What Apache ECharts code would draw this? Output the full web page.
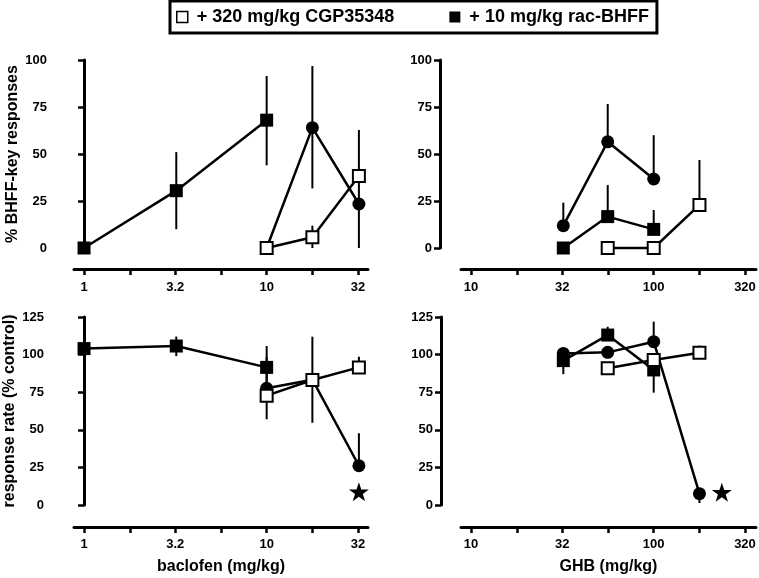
<!DOCTYPE html>
<html>
<head>
<meta charset="utf-8">
<script src="https://cdn.jsdelivr.net/npm/echarts@6/dist/echarts.min.js"></script>
<style>
html,body{margin:0;padding:0;background:#fff;}
#chart{width:759px;height:578px;}
</style>
</head>
<body>
<div id="chart"></div>
<script>
// ---------- data ----------
const legendCGP = '+ 320 mg/kg CGP35348';
const legendBHFF = '+ 10 mg/kg rac-BHFF';

// Baclofen panels
const bacAloneDose = [10, 17.8, 32];
const bacAloneBHFF = [0, 64, 23.4];
const bacAloneRate = [77.6, 83.3, 26.1];
const bacBHFFDose = [1, 3.2, 10];
const bacBHFFBHFF = [0, 30.5, 68];
const bacBHFFRate = [104, 105.7, 91.5];
const bacCGPDose = [10, 17.8, 32];
const bacCGPBHFF = [0, 5.7, 38.3];
const bacCGPRate = [72.7, 83.1, 91.5];

// GHB panels
const ghbAloneDose = [32, 56, 100, 178];
const ghbAloneBHFF = [11.9, 56.5, 36.7, null];
const ghbAloneRate = [100.8, 101.5, 108.6, 7.5];
const ghbBHFFDose = [32, 56, 100];
const ghbBHFFBHFF = [0, 16.7, 9.9];
const ghbBHFFRate = [96, 113, 89.8];
const ghbCGPDose = [56, 100, 178];
const ghbCGPBHFF = [0, 0, 22.9];
const ghbCGPRate = [90.9, 96.4, 101.3];

// error bars: [dose, low, high]
const errBacBHFF = [[3.2, 10, 51], [10, 44, 91.5], [17.8, 31.7, 96.8], [32, 0, 62.8], [17.8, 0, 11.9]];
const errGhbBHFF = [[32, 11.9, 24.1], [56, 56.5, 76.6], [100, 36.7, 60], [56, 16.7, 33.5], [100, 9.9, 20.2], [178, 22.9, 46.8]];
const errBacRate = [[3.2, 99, 112], [10, 77.3, 105.7], [10, 57, 98.2], [17.8, 54.7, 111.9], [32, 26.1, 47.7], [32, 91.5, 98.6]];
const errGhbRate = [[32, 87, 96], [56, 113, 118.5], [100, 108.6, 121.9], [100, 74.7, 89.8], [178, 101.3, 106], [178, 1.3, 7.5]];

// significance stars: [dose, value]
const starBac = [[32, 8.8]];
const starGhb = [[236, 8.5]];

// axis ticks
const bacTickDoses = [1, 1.78, 3.16, 5.62, 10, 17.8, 31.6];
const bacLabelDoses = [1, 3.16, 10, 31.6];
const bacLabels = ['1', '3.2', '10', '32'];
const ghbTickDoses = [10, 17.8, 31.6, 56.2, 100, 178, 316];
const ghbLabelDoses = [10, 31.6, 100, 316];
const ghbLabels = ['10', '32', '100', '320'];

// ---------- build ----------
const lg = d => Math.log10(d);
const pts = (doses, vals) => doses.map((d, i) => [lg(d), vals[i]]);
const errPts = arr => arr.map(e => [lg(e[0]), e[1], e[2]]);
const FONT = 'Liberation Sans, Arial, sans-serif';

function xAxis(grid, min, max, tickDoses, labelDoses, labels, offset, margin, name) {
  const labelLogs = labelDoses.map(lg);
  return {
    type: 'value', gridIndex: grid, min: min, max: max,
    offset: offset,
    splitLine: {show: false},
    axisLine: {show: true, onZero: false, lineStyle: {color: '#000', width: 3}},
    axisTick: {show: true, length: 6, lineStyle: {color: '#000', width: 2.5}, customValues: tickDoses.map(lg)},
    axisLabel: {
      customValues: labelLogs, margin: margin, color: '#000', fontFamily: FONT, fontWeight: 'bold', fontSize: 13,
      formatter: v => {
        for (let i = 0; i < labelLogs.length; i++) if (Math.abs(labelLogs[i] - v) < 1e-6) return labels[i];
        return '';
      }
    },
    name: name || '', nameLocation: 'middle', nameGap: 32,
    nameTextStyle: {color: '#000', fontFamily: FONT, fontWeight: 'bold', fontSize: 16}
  };
}
function yAxis(grid, max, offset, name) {
  return {
    type: 'value', gridIndex: grid, min: 0, max: max, interval: 25,
    offset: offset,
    splitLine: {show: false},
    axisLine: {show: true, lineStyle: {color: '#000', width: 3}},
    axisTick: {show: true, length: 6, lineStyle: {color: '#000', width: 2.5}},
    axisLabel: {margin: 8, color: '#000', fontFamily: FONT, fontWeight: 'bold', fontSize: 13},
    name: name || '', nameLocation: 'middle', nameGap: 34,
    nameTextStyle: {color: '#000', fontFamily: FONT, fontWeight: 'bold', fontSize: 16}
  };
}
function renderBar(params, api) {
  const p1 = api.coord([api.value(0), api.value(1)]);
  const p2 = api.coord([api.value(0), api.value(2)]);
  return {type: 'line', shape: {x1: p1[0], y1: p1[1], x2: p2[0], y2: p2[1]}, style: {stroke: '#000', lineWidth: 2}};
}
function errSeries(idx, data) {
  return {type: 'custom', xAxisIndex: idx, yAxisIndex: idx, renderItem: renderBar, data: errPts(data),
    encode: {x: 0, y: [1, 2]}, clip: false, z: 1, silent: true};
}
function lineSeries(idx, name, data, kind) {
  const base = {type: 'line', name: name, xAxisIndex: idx, yAxisIndex: idx, data: data, clip: false,
    connectNulls: false, animation: false,
    lineStyle: {color: '#000', width: 2.5}, showAllSymbol: true};
  if (kind === 'circle') return Object.assign(base, {symbol: 'circle', symbolSize: 13, itemStyle: {color: '#000'}, z: 2});
  if (kind === 'filled') return Object.assign(base, {symbol: 'rect', symbolSize: 13, itemStyle: {color: '#000'}, z: 3});
  return Object.assign(base, {symbol: 'rect', symbolSize: 12, itemStyle: {color: '#fff', borderColor: '#000', borderWidth: 2}, z: 4});
}
const STAR = 'path://M50,0 L61.8,35.4 L99,35.4 L69,57.3 L80.4,92.7 L50,70.8 L19.6,92.7 L31,57.3 L1,35.4 L38.2,35.4 Z';
function starSeries(idx, data) {
  return {type: 'scatter', xAxisIndex: idx, yAxisIndex: idx, symbol: STAR, symbolKeepAspect: true, symbolSize: 20,
    itemStyle: {color: '#000', opacity: 1}, data: data.map(s => [lg(s[0]), s[1]]), clip: false, silent: true, z: 5};
}

const bacMin = -0.055, bacMax = 1.555, ghbMin = 0.945, ghbMax = 2.56;

const option = {
  backgroundColor: '#fff',
  animation: false,
  legend: {
    data: [
      {name: legendCGP, icon: 'rect', itemStyle: {color: '#fff', borderColor: '#000', borderWidth: 1.5}},
      {name: legendBHFF, icon: 'rect', itemStyle: {color: '#000'}}
    ],
    left: 170, top: 1, orient: 'horizontal',
    padding: [7, 8, 7, 6], itemGap: 55, itemWidth: 11, itemHeight: 11,
    borderColor: '#000', borderWidth: 3, borderRadius: 0,
    selectedMode: false,
    textStyle: {color: '#000', fontFamily: FONT, fontWeight: 'bold', fontSize: 18, padding: [0, 0, 0, 4]}
  },
  grid: [
    {left: 74, width: 294, top: 60, height: 188},
    {left: 461, width: 295, top: 60, height: 188},
    {left: 74, width: 294, top: 317, height: 188},
    {left: 461, width: 295, top: 317, height: 188}
  ],
  xAxis: [
    xAxis(0, bacMin, bacMax, bacTickDoses, bacLabelDoses, bacLabels, 21, 12),
    xAxis(1, ghbMin, ghbMax, ghbTickDoses, ghbLabelDoses, ghbLabels, 21, 12),
    xAxis(2, bacMin, bacMax, bacTickDoses, bacLabelDoses, bacLabels, 22, 11, 'baclofen (mg/kg)'),
    xAxis(3, ghbMin, ghbMax, ghbTickDoses, ghbLabelDoses, ghbLabels, 22, 11, 'GHB (mg/kg)')
  ],
  yAxis: [
    yAxis(0, 100, 19, '% BHFF-key responses'),
    yAxis(1, 100, 21),
    yAxis(2, 125, 22, 'response rate (% control)'),
    yAxis(3, 125, 20)
  ],
  series: [
    errSeries(0, errBacBHFF),
    errSeries(1, errGhbBHFF),
    errSeries(2, errBacRate),
    errSeries(3, errGhbRate),

    lineSeries(0, 'baclofen', pts(bacAloneDose, bacAloneBHFF), 'circle'),
    lineSeries(0, legendBHFF, pts(bacBHFFDose, bacBHFFBHFF), 'filled'),
    lineSeries(0, legendCGP, pts(bacCGPDose, bacCGPBHFF), 'open'),

    lineSeries(1, 'GHB', pts(ghbAloneDose, ghbAloneBHFF), 'circle'),
    lineSeries(1, legendBHFF, pts(ghbBHFFDose, ghbBHFFBHFF), 'filled'),
    lineSeries(1, legendCGP, pts(ghbCGPDose, ghbCGPBHFF), 'open'),

    lineSeries(2, 'baclofen', pts(bacAloneDose, bacAloneRate), 'circle'),
    lineSeries(2, legendBHFF, pts(bacBHFFDose, bacBHFFRate), 'filled'),
    lineSeries(2, legendCGP, pts(bacCGPDose, bacCGPRate), 'open'),

    lineSeries(3, 'GHB', pts(ghbAloneDose, ghbAloneRate), 'circle'),
    lineSeries(3, legendBHFF, pts(ghbBHFFDose, ghbBHFFRate), 'filled'),
    lineSeries(3, legendCGP, pts(ghbCGPDose, ghbCGPRate), 'open'),

    starSeries(2, starBac),
    starSeries(3, starGhb)
  ]
};

const chart = echarts.init(document.getElementById('chart'), null, {renderer: 'canvas'});
chart.setOption(option);
</script>
</body>
</html>
